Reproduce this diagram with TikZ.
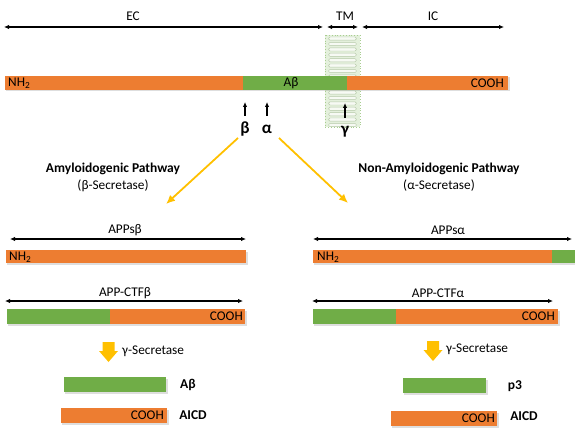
\documentclass[tikz,border=0pt]{standalone}
\usepackage{fontspec}
\setmainfont{Carlito}
\usetikzlibrary{arrows.meta,calc}
\definecolor{aporange}{HTML}{ED7D31}
\definecolor{apgreen}{HTML}{70AD47}
\definecolor{apyellow}{HTML}{FFC000}
\definecolor{memfill}{HTML}{E4F0DC}
\definecolor{memline}{HTML}{B5C9A8}
\begin{document}
\begin{tikzpicture}[x=1pt,y=-1pt,
  obar/.style={fill=aporange},
  gbar/.style={fill=apgreen},
  shad/.style={fill=black,opacity=0.13},
  span/.style={{Latex[length=5pt,width=4.5pt]}-{Latex[length=5pt,width=4.5pt]},line width=1.6pt},
  txt/.style={font=\fontsize{13.3}{15}\selectfont,inner sep=0pt},
  btxt/.style={font=\bfseries\fontsize{13.5}{15}\selectfont,inner sep=0pt},
  greek/.style={font=\bfseries\fontsize{17}{19}\selectfont,inner sep=0pt},
  cutarrow/.style={-{Latex[length=5pt,width=4.5pt]},line width=1.3pt},
  yarrow/.style={-{Latex[length=9pt,width=8pt]},line width=1.8pt,draw=apyellow},
  blockarrow/.style={fill=apyellow},
  lipid/.style={draw=memline,fill=white!70!memfill,line width=0.45pt,rounded corners=1.5pt}
]
\useasboundingbox (0,0) rectangle (575,441);

% ---- domain labels
\node[txt] (ec) at (133,16) {EC};
\node[txt] (tm) at (345,16) {TM};
\node[txt] (ic) at (433,16) {IC};
\coordinate (ecL) at (4,27); \coordinate (ecR) at (323,27);
\coordinate (tmL) at (327,27); \coordinate (tmR) at (358,27);
\coordinate (icL) at (362,27); \coordinate (icR) at (504,27);
\draw[span] (ecL) -- (ecR);
\draw[span] (tmL) -- (tmR);
\draw[span] (icL) -- (icR);

% ---- membrane
\draw[draw=apgreen!60,fill=memfill,dotted,line width=0.8pt] (325,35) rectangle (360,127);
\foreach \i in {0,...,16} {
  \draw[lipid] (328.5,37+\i*5.4) rectangle ++(28,3.2);
}

% ---- full APP
\fill[shad] (6,77.5) rectangle (509.5,91.5);
\fill[obar] (5,76) rectangle (243,90);
\fill[gbar] (243,76) rectangle (347,90);
\fill[obar] (347,76) rectangle (508,90);
\node[txt,anchor=west] (nh0) at (8,83.5) {NH\textsubscript{2}};
\node[txt] (ab0) at (291,83.5) {Aβ};
\node[txt,anchor=east] (cooh0) at (504,83.5) {COOH};

% ---- cleavage sites
\coordinate (bS) at (245,116); \coordinate (bT) at (245,102);
\coordinate (aS) at (267,116); \coordinate (aT) at (267,102);
\coordinate (gS) at (345,118); \coordinate (gT) at (345,103);
\draw[cutarrow] (bS) -- (bT);
\draw[cutarrow] (aS) -- (aT);
\draw[cutarrow] (gS) -- (gT);
\node[greek] (beta) at (245,129.5) {β};
\node[greek] (alpha) at (267,129.5) {α};
\node[greek] (gamma) at (345,132) {γ};

% ---- pathway arrows
\coordinate (yl0) at (238,138); \coordinate (yl1) at (166,204);
\coordinate (yr0) at (279,138); \coordinate (yr1) at (348,203);
\draw[yarrow] (yl0) -- (yl1);
\draw[yarrow] (yr0) -- (yr1);

\node[btxt] (amy) at (113,169) {Amyloidogenic Pathway};
\node[txt] (bsec) at (113,186) {(β-Secretase)};
\node[btxt] (namy) at (439,169) {Non-Amyloidogenic Pathway};
\node[txt] (asec) at (439,186) {(α-Secretase)};

% ---- APPs beta
\node[txt] (appsb) at (125,230) {APPsβ};
\coordinate (sbL) at (10,239); \coordinate (sbR) at (246,239);
\draw[span,line width=1.4pt] (sbL) -- (sbR);
\fill[shad] (7,251.5) rectangle (247.5,264.5);
\fill[obar] (6,250) rectangle (246,263);
\node[txt,anchor=west] (nh1) at (9,257) {NH\textsubscript{2}};

% ---- APPs alpha
\node[txt] (appsa) at (448,230) {APPsα};
\coordinate (saL) at (313,239); \coordinate (saR) at (572,239);
\draw[span,line width=1.4pt] (saL) -- (saR);
\fill[shad] (314,251.5) rectangle (575,264.5);
\fill[obar] (313,250) rectangle (552,263);
\fill[gbar] (552,250) rectangle (575,263);
\node[txt,anchor=west] (nh2) at (317,257) {NH\textsubscript{2}};

% ---- APP-CTF beta
\node[txt] (ctfb) at (125,293) {APP-CTFβ};
\coordinate (cbL) at (5,301); \coordinate (cbR) at (243,301);
\draw[span,line width=1.4pt] (cbL) -- (cbR);
\fill[shad] (8,310.5) rectangle (246.5,325.5);
\fill[gbar] (7,309) rectangle (110,324);
\fill[obar] (110,309) rectangle (245,324);
\node[txt,anchor=east] (cooh1) at (243,316.5) {COOH};

% ---- APP-CTF alpha
\node[txt] (ctfa) at (438,293) {APP-CTFα};
\coordinate (caL) at (312,301); \coordinate (caR) at (553,301);
\draw[span,line width=1.4pt] (caL) -- (caR);
\fill[shad] (314,310.5) rectangle (559.5,325.5);
\fill[gbar] (313,309) rectangle (396,324);
\fill[obar] (396,309) rectangle (558,324);
\node[txt,anchor=east] (cooh2) at (555,316.5) {COOH};

% ---- gamma secretase block arrows
\fill[blockarrow] (102.5,342) -- (114.5,342) -- (114.5,351) -- (118,351) -- (108.5,362) -- (99,351) -- (102.5,351) -- cycle;
\node[txt,anchor=west] (gsec1) at (122,351) {γ-Secretase};
\fill[blockarrow] (427,341) -- (439,341) -- (439,350) -- (442.5,350) -- (433,361) -- (423.5,350) -- (427,350) -- cycle;
\node[txt,anchor=west] (gsec2) at (446,349) {γ-Secretase};

% ---- products beta
\fill[shad] (65,378.5) rectangle (167.5,393.5);
\fill[gbar] (64,377) rectangle (166,392);
\node[btxt] (abp) at (188,384.5) {Aβ};
\fill[shad] (62,409.5) rectangle (168.5,424.5);
\fill[obar] (61,408) rectangle (167,423);
\node[txt,anchor=east] (cooh3) at (164,415.5) {COOH};
\node[btxt] (aicd1) at (193,415.5) {AICD};

% ---- products alpha
\fill[shad] (404,379.5) rectangle (487.5,394.5);
\fill[gbar] (403,378) rectangle (486,393);
\node[btxt] (p3) at (515,386) {p3};
\fill[shad] (392,412.5) rectangle (498.5,427.5);
\fill[obar] (391,411) rectangle (497,426);
\node[txt,anchor=east] (cooh4) at (495,418.5) {COOH};
\node[btxt] (aicd2) at (524,416) {AICD};
\end{tikzpicture}
\end{document}
